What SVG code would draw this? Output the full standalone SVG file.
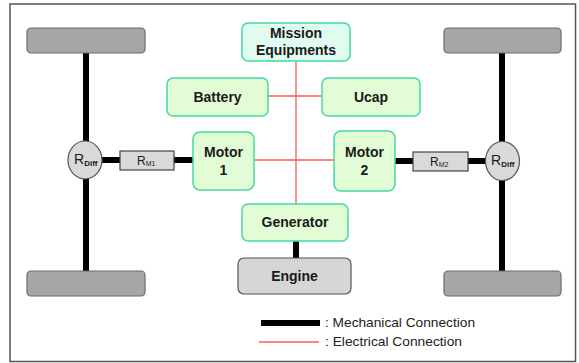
<svg xmlns="http://www.w3.org/2000/svg" width="579" height="363" viewBox="0 0 579 363">
  <style>
    .frame { fill: #ffffff; stroke: #555555; stroke-width: 1.5; }
    .wheel { fill: #a6a6a6; stroke: #6b6b6b; stroke-width: 1.2; }
    .node { fill: #e2fcd6; stroke: #44d9a4; stroke-width: 1.5; }
    .mission { fill: #dffcee; stroke: #44d9a4; stroke-width: 1.5; }
    .engine { fill: #d6d6d6; stroke: #555555; stroke-width: 1.2; }
    .gear { fill: #d9d9d9; stroke: #555555; stroke-width: 1.2; }
    .ratio { fill: #d9d9d9; stroke: #444444; stroke-width: 1.2; }
    .mech { stroke: #000000; stroke-width: 6; fill: none; }
    .elec { stroke: #ff5a5a; stroke-width: 1.3; fill: none; }
    .lbl { font-family: "Liberation Sans", Arial, sans-serif; font-size: 14px; font-weight: bold; fill: #1a1a1a; text-anchor: middle; }
    .r { font-family: "Liberation Sans", Arial, sans-serif; font-size: 12px; fill: #1a1a1a; }
    .rd { font-size: 14px; }
    .sub { font-size: 7px; }
    .subd { font-size: 8px; font-weight: bold; }
    .leg { font-family: "Liberation Sans", Arial, sans-serif; font-size: 13px; fill: #222222; }
  </style>

  <rect class="frame" x="10" y="4" width="565.5" height="357.5"/>

  <!-- connectors -->
  <g id="connectors">
    <!-- mechanical: axles and shafts -->
    <line class="mech" x1="86" y1="53" x2="86" y2="142"/>
    <line class="mech" x1="86" y1="178" x2="86" y2="271"/>
    <line class="mech" x1="502" y1="53" x2="502" y2="142"/>
    <line class="mech" x1="502" y1="179" x2="502" y2="271"/>
    <line class="mech" x1="101" y1="160" x2="120" y2="160"/>
    <line class="mech" x1="174" y1="160" x2="194" y2="160"/>
    <line class="mech" x1="395" y1="161" x2="413" y2="161"/>
    <line class="mech" x1="468" y1="161" x2="487" y2="161"/>
    <line class="mech" x1="296" y1="241" x2="296" y2="258" stroke-width="5"/>
    <!-- electrical bus -->
    <line class="elec" x1="296" y1="61" x2="296" y2="204"/>
    <line class="elec" x1="268" y1="96" x2="322" y2="96"/>
    <line class="elec" x1="254" y1="160" x2="334" y2="160"/>
  </g>

  <!-- wheels -->
  <g id="wheel-fl"><rect class="wheel" x="27" y="28" width="118" height="25" rx="4"/></g>
  <g id="wheel-rl"><rect class="wheel" x="27" y="271" width="118" height="25" rx="4"/></g>
  <g id="wheel-fr"><rect class="wheel" x="444" y="28" width="117" height="25" rx="4"/></g>
  <g id="wheel-rr"><rect class="wheel" x="444" y="271" width="117" height="25" rx="4"/></g>

  <!-- differentials -->
  <g id="diff-left">
    <ellipse class="gear" cx="85" cy="160" rx="17" ry="19"/>
    <text class="r rd" x="74" y="164">R<tspan class="subd" dy="2">Diff</tspan></text>
  </g>
  <g id="diff-right">
    <ellipse class="gear" cx="502.5" cy="161" rx="17" ry="19.5"/>
    <text class="r rd" x="491" y="165">R<tspan class="subd" dy="2">Diff</tspan></text>
  </g>

  <!-- reduction gears -->
  <g id="ratio-m1">
    <rect class="ratio" x="120" y="151" width="54" height="19"/>
    <text class="r" x="137" y="165">R<tspan class="sub" dy="1">M1</tspan></text>
  </g>
  <g id="ratio-m2">
    <rect class="ratio" x="413" y="152" width="55" height="19"/>
    <text class="r" x="430" y="166">R<tspan class="sub" dy="1">M2</tspan></text>
  </g>

  <!-- electrical components -->
  <g id="mission">
    <rect class="mission" x="242" y="23" width="108" height="38" rx="6"/>
    <text class="lbl" x="296" y="38">Mission</text>
    <text class="lbl" x="296" y="55">Equipments</text>
  </g>
  <g id="battery">
    <rect class="node" x="167" y="78" width="101" height="38" rx="6"/>
    <text class="lbl" x="217.5" y="102">Battery</text>
  </g>
  <g id="ucap">
    <rect class="node" x="322" y="78" width="98" height="38" rx="6"/>
    <text class="lbl" x="371" y="102">Ucap</text>
  </g>
  <g id="motor1">
    <rect class="node" x="193" y="132" width="61" height="58" rx="7"/>
    <text class="lbl" x="223.5" y="157">Motor</text>
    <text class="lbl" x="223.5" y="175">1</text>
  </g>
  <g id="motor2">
    <rect class="node" x="334" y="131" width="61" height="60" rx="7"/>
    <text class="lbl" x="364.5" y="157">Motor</text>
    <text class="lbl" x="364.5" y="175">2</text>
  </g>
  <g id="generator">
    <rect class="node" x="242" y="204" width="106" height="37" rx="6"/>
    <text class="lbl" x="295" y="227">Generator</text>
  </g>
  <g id="engine">
    <rect class="engine" x="238" y="258" width="113" height="36" rx="6"/>
    <text class="lbl" x="294.5" y="281">Engine</text>
  </g>

  <!-- legend -->
  <g id="legend">
    <line class="mech" x1="261" y1="323" x2="320" y2="323" stroke-width="5"/>
    <text class="leg" x="325" y="327" textLength="150" lengthAdjust="spacingAndGlyphs">: Mechanical Connection</text>
    <line class="elec" x1="259" y1="342" x2="319" y2="342"/>
    <text class="leg" x="325" y="346" textLength="137" lengthAdjust="spacingAndGlyphs">: Electrical Connection</text>
  </g>
</svg>
